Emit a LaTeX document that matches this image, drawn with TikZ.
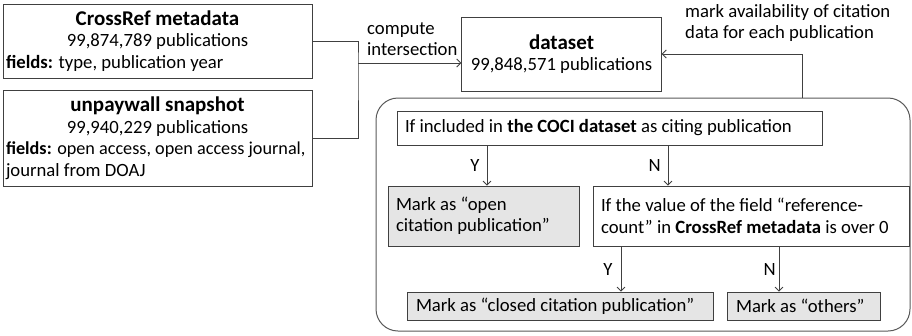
\documentclass[tikz,border=0pt]{standalone}
\usepackage{fontspec}
\setmainfont{Carlito}
\usetikzlibrary{arrows.meta}

\newcommand{\titlefont}{\fontsize{21}{25}\selectfont\bfseries}
\newcommand{\bodyfont}{\fontsize{18.7}{21.5}\selectfont}

\tikzset{
  box/.style={draw=black!75, line width=0.8pt, inner ysep=0pt, font=\bodyfont, align=flush left},
  markbox/.style={box, fill=black!10},
  link/.style={draw=black!75, line width=0.8pt},
  arr/.style={link, -{Straight Barb[length=4pt,width=8pt]}},
  lbl/.style={font=\bodyfont, align=flush left, inner sep=0pt},
}

\begin{document}
\begin{tikzpicture}[x=1pt,y=-1pt]
    \useasboundingbox (0,0) rectangle (912,335);

    % draw source boxes
    \node[box, inner xsep=3pt, text width=303pt, minimum height=74pt] (crossref) at (157.5,41)
      {{\centering{\titlefont CrossRef metadata}\\ 99,874,789 publications\par}
       \textbf{fields:} type, publication year};
    \node[box, inner xsep=3pt, text width=303pt, minimum height=96pt] (unpaywall) at (157.5,138)
      {{\centering{\titlefont unpaywall snapshot}\\ 99,940,229 publications\par}
       \mbox{\fontsize{18.2}{21.5}\selectfont\textbf{fields:} open access, open access journal,}\\ journal from DOAJ};

    % draw dataset box
    \node[box, align=flush center, text width=193pt, minimum height=74pt] (dataset) at (561.5,54)
      {{\titlefont dataset}\\ 99,848,571 publications};

    % draw rounded frame round the decision steps
    \node[draw=black!65, line width=1pt, rounded corners=22pt, minimum width=534pt, minimum height=233pt] (frame) at (643,214.5) {};

    % draw decision and result boxes
    \node[box, inner xsep=8pt, text width=409pt, minimum height=34pt] (coci) at (609.5,128)
      {If included in \textbf{the COCI dataset} as citing publication};
    \node[markbox, inner xsep=8pt, text width=175pt, minimum height=60pt] (openmark) at (483.5,216)
      {Mark as “open\\ citation publication”};
    \node[box, inner xsep=8pt, text width=300pt, minimum height=60pt] (refcount) at (751,216)
      {If the value of the field “reference-\\ count” in \textbf{CrossRef metadata} is over 0};
    \node[markbox, inner xsep=9pt, text width=288pt, minimum height=28pt] (closedmark) at (560,306)
      {Mark as “closed citation publication”};
    \node[markbox, inner xsep=9pt, text width=135pt, minimum height=28pt] (othermark) at (803.5,306)
      {Mark as “others”};

    % draw intersection connector
    \coordinate (merge) at (358,63);
    \draw[link] (crossref.east) -| (merge) |- (unpaywall.east);
    \draw[arr] (merge) -- (merge -| dataset.west);
    \node[lbl, anchor=south west] (computelbl) at (367,56) {compute\\ intersection};

    % draw feedback connector
    \coordinate (up) at (802,98);
    \draw[arr] (up) |- (dataset.east);
    \node[lbl, anchor=west] (marklbl) at (685,23) {mark availability of citation\\ data for each publication};

    % draw yes / no branches
    \draw[arr] (487,0 |- coci.south) -- (487,0 |- openmark.north) node[midway, left=7pt, lbl] {Y};
    \draw[arr] (668,0 |- coci.south) -- (668,0 |- refcount.north) node[midway, left=7pt, lbl] {N};
    \draw[arr] (621,0 |- refcount.south) -- (621,0 |- closedmark.north) node[midway, left=8pt, lbl] {Y};
    \draw[arr] (779,0 |- refcount.south) -- (779,0 |- othermark.north) node[midway, left=3pt, lbl] {N};

  \end{tikzpicture}
\end{document}
